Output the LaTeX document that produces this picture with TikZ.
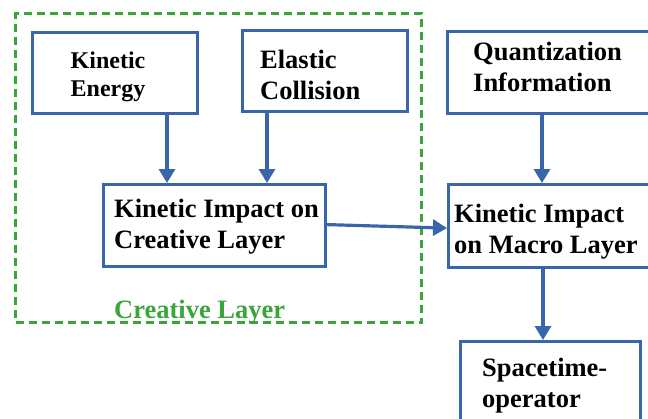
\documentclass[tikz,border=0pt]{standalone}
\usepackage{fontspec}
\setmainfont{Liberation Serif}
\usetikzlibrary{arrows.meta,calc}
\definecolor{bblue}{RGB}{57,101,170}
\definecolor{ggreen}{RGB}{58,166,58}
\begin{document}
\begin{tikzpicture}[x=1pt,y=-1pt,
  box/.style={draw=bblue,line width=3.2pt,fill=white,rectangle,anchor=north west,inner sep=0pt},
  txt/.style={anchor=base west,inner sep=0pt,align=left,font=\fontsize{26.5}{31}\selectfont\bfseries},
  arr/.style={draw=bblue,line width=3.2pt,-{Triangle[length=14pt,width=16pt]}}]
\fill[white] (0,0) rectangle (648,418);
\clip (0,0) rectangle (648,418);
% creative layer frame
\node[draw=ggreen,line width=3pt,dash pattern=on 8pt off 5pt,rectangle,anchor=north west,inner sep=0pt,minimum width=406pt,minimum height=309pt] (frame) at (14,12) {};
\node[anchor=base west,inner sep=0pt,text=ggreen,font=\fontsize{26.5}{31}\selectfont\bfseries] (lbl) at (114,318) {Creative Layer};
% boxes
\node[box,minimum width=165pt,minimum height=81pt] (ke) at (31,31) {};
\node[box,minimum width=165pt,minimum height=81pt] (ec) at (241,29) {};
\node[box,minimum width=222pt,minimum height=82pt] (cr) at (102,183) {};
\node[box,minimum width=230pt,minimum height=82pt] (qi) at (446,30) {};
\node[box,minimum width=230pt,minimum height=83pt] (mac) at (447,183) {};
\node[box,minimum width=180pt,minimum height=100pt] (st) at (459,340) {};
% texts (anchored at the baseline of the last line)
\node[anchor=base,inner sep=0pt,align=center,font=\fontsize{24}{28}\selectfont\bfseries] (ket) at (108,96) {Kinetic\\Energy};
\node[txt] (ect) at (260,99) {Elastic\\Collision};
\node[txt] (crt) at (114,248) {Kinetic Impact on\\Creative Layer};
\node[txt] (qit) at (473,91) {Quantization\\Information};
\node[txt] (mact) at (454,253) {Kinetic Impact\\on Macro Layer};
\node[txt] (stt) at (482,407) {Spacetime-\\operator};
% arrows
\coordinate (k1) at (167,0);
\coordinate (k2) at (267,0);
\coordinate (k3) at (542,0);
\coordinate (k4) at (543,0);
\draw[arr] (ke.south -| k1) -- (cr.north -| k1);
\draw[arr] (ec.south -| k2) -- (cr.north -| k2);
\draw[arr] ([yshift=1pt]cr.east) -- ([yshift=-2pt]mac.west);
\draw[arr] (qi.south -| k3) -- (mac.north -| k3);
\draw[arr] (mac.south -| k4) -- (st.north -| k4);
\end{tikzpicture}
\end{document}
